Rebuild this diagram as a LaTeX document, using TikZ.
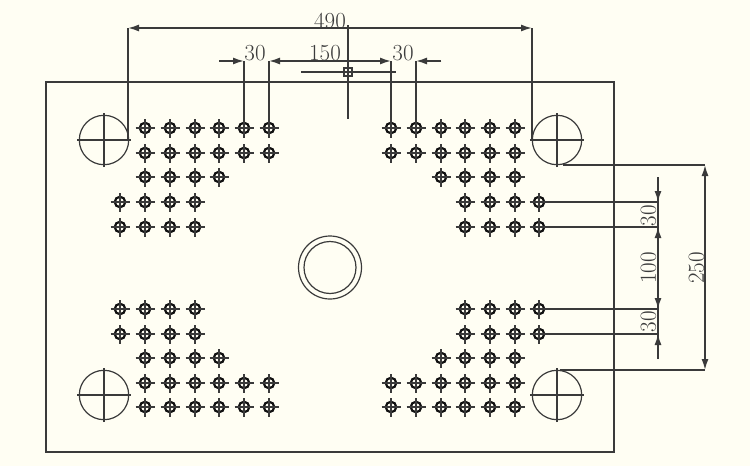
\documentclass[tikz,border=0pt]{standalone}
\usetikzlibrary{arrows.meta}
\definecolor{paper}{HTML}{FFFEF3}
\definecolor{ink}{HTML}{3A3A3A}
\definecolor{holeink}{HTML}{111111}
\definecolor{dimtext}{HTML}{3C3C3C}
\tikzset{
	plate/.style={draw=ink, line width=1.6pt},
	guide/.style={draw=ink, line width=1.6pt},
	tip/.style={-{Latex[length=11pt,width=7pt]}, draw=ink, fill=holeink, line width=1.6pt},
	hole/.style={draw=holeink, circle, line width=2.2pt, minimum size=10.5pt, inner sep=0pt},
	pillar/.style={draw=ink, circle, line width=1.2pt, minimum size=49.4pt, inner sep=0pt},
	bore/.style={draw=ink, circle, line width=1.2pt, inner sep=0pt},
	dimlabel/.style={text=dimtext, inner sep=0pt, font=\fontsize{23}{23}\selectfont},
}
\begin{document}
\begin{tikzpicture}[x=1pt, y=-1pt]
	\fill[paper] (0,0) rectangle (750,466);
	\useasboundingbox (0,0) rectangle (750,466);
	\draw[plate] (46,82) rectangle (614,452);

	% grid of the small holes
	\foreach \cx [count=\c] in {120,145,170,195,219,244,269,391,416,441,465,490,515,539}
		\coordinate (col\c) at (\cx,0);
	\foreach \ry [count=\r] in {128,153,177,202,227,309,334,358,383,407}
		\coordinate (row\r) at (0,\ry);
	\foreach \r/\cols in {1/{2,...,13}, 2/{2,...,13}, 3/{2,3,4,5,10,11,12,13}, 4/{1,2,3,4,11,12,13,14}, 5/{1,2,3,4,11,12,13,14},
		6/{1,2,3,4,11,12,13,14}, 7/{1,2,3,4,11,12,13,14}, 8/{2,3,4,5,10,11,12,13}, 9/{2,...,13}, 10/{2,...,13}}
		\foreach \c in \cols {
			\node (h\r-\c) [hole] at (col\c |- row\r) {};
			\draw[guide] ([xshift=-9.5pt]h\r-\c.center) -- ([xshift=9.5pt]h\r-\c.center);
			\draw[guide] ([yshift=-9.5pt]h\r-\c.center) -- ([yshift=9.5pt]h\r-\c.center);
		}

	% guide pillars
	\foreach \name/\px/\py in {ptl/104/140, ptr/557/140, pbl/104/395, pbr/557/395} {
		\node (\name) [pillar] at (\px,\py) {};
		\draw[guide] ([xshift=-27pt]\name.center) -- ([xshift=27pt]\name.center);
		\draw[guide] ([yshift=-27pt]\name.center) -- ([yshift=27pt]\name.center);
	}

	% centre bore
	\node (outer) [bore, minimum size=63pt] at (330,267.5) {};
	\node (inner) [bore, minimum size=52pt] at (330,267.5) {};

	% centre mark
	\node (mark) [draw=ink, rectangle, line width=1.2pt, minimum size=8pt, inner sep=0pt] at (348,72) {};
	\coordinate (markt) at (348,25);
	\coordinate (markb) at (348,119);
	\coordinate (markl) at (301,72);
	\coordinate (markr) at (396,72);
	\draw[guide] (markt) -- (markb);
	\draw[guide] (markl) -- (markr);

	% 490
	\coordinate (wl) at (128,28);
	\coordinate (wr) at (532,28);
	\coordinate (wlb) at (128,140);
	\coordinate (wrb) at (532,140);
	\draw[guide] (wlb) -- (wl);
	\draw[guide] (wrb) -- (wr);
	\draw[tip] (348,28) -- (wl);
	\draw[tip] (348,28) -- (wr);
	\node (w490) [dimlabel] at (330,20.5) {490};

	% 30 150 30
	\coordinate (sl) at (219,61);
	\coordinate (sr) at (441,61);
	\coordinate (s6) at (244,61);
	\coordinate (s7) at (269,61);
	\coordinate (s8) at (391,61);
	\coordinate (s9) at (416,61);
	\draw[guide] (s6) -- (h1-6);
	\draw[guide] (s7) -- (h1-7);
	\draw[guide] (s8) -- (h1-8);
	\draw[guide] (s9) -- (h1-9);
	\draw[tip] (sl) -- (s6);
	\draw[tip] (330,61) -- (s7);
	\draw[tip] (330,61) -- (s8);
	\draw[tip] (sr) -- (s9);
	\node (a30) [dimlabel] at (255,53) {30};
	\node (a150) [dimlabel] at (325,53) {150};
	\node (b30) [dimlabel] at (403,53) {30};

	% 30 100 30
	\coordinate (vt) at (658,177);
	\coordinate (vb) at (658,359);
	\coordinate (v4) at (658,202);
	\coordinate (v5) at (658,227);
	\coordinate (v6) at (658,309);
	\coordinate (v7) at (658,334);
	\draw[guide] (h4-14) -- (v4);
	\draw[guide] (h5-14) -- (v5);
	\draw[guide] (h6-14) -- (v6);
	\draw[guide] (h7-14) -- (v7);
	\draw[guide] (vt) -- (vb);
	\draw[tip] (vt) -- (v4);
	\draw[tip] (658,267) -- (v5);
	\draw[tip] (658,267) -- (v6);
	\draw[tip] (vb) -- (v7);
	\node (c30) [dimlabel, rotate=90] at (648.5,215.5) {30};
	\node (c100) [dimlabel, rotate=90] at (648.5,268) {100};
	\node (d30) [dimlabel, rotate=90] at (648.5,321.5) {30};

	% 250
	\coordinate (ht) at (705,165);
	\coordinate (hb) at (705,370);
	\coordinate (htl) at (563,165);
	\coordinate (hbl) at (560,370);
	\draw[guide] (htl) -- (ht);
	\draw[guide] (hbl) -- (hb);
	\draw[tip] (705,267) -- (ht);
	\draw[tip] (705,267) -- (hb);
	\node (e250) [dimlabel, rotate=90] at (696.5,268) {250};
\end{tikzpicture}
\end{document}
